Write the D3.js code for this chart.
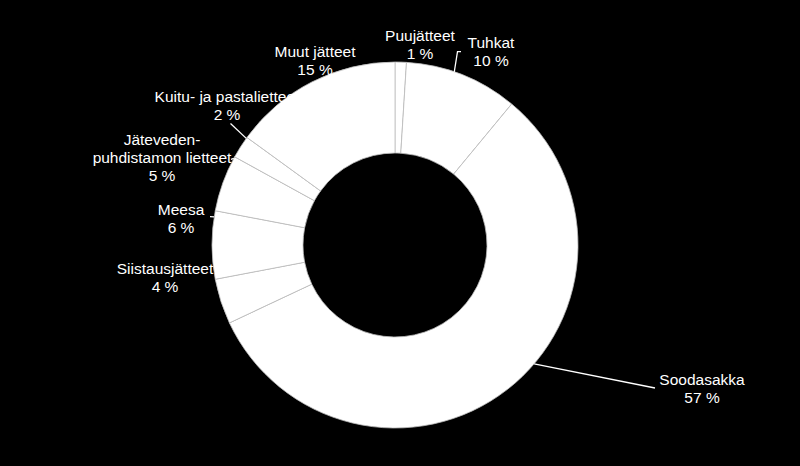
<!DOCTYPE html>
<html>
<head>
<meta charset="utf-8">
<script src="https://cdn.jsdelivr.net/npm/d3@7"></script>
<style>
  html, body { margin: 0; padding: 0; background: #000; }
  svg { display: block; }
</style>
</head>
<body>
<div id="chart"></div>
<script>
// chart data (share of waste, %)
var categories = ["Puujätteet", "Tuhkat", "Soodasakka", "Siistausjätteet", "Meesa",
                  "Jäteveden-\npuhdistamon lietteet", "Kuitu- ja pastalietteet", "Muut jätteet"];
var values = [1, 10, 57, 4, 6, 5, 2, 15];
var valueLabels = ["1 %", "10 %", "57 %", "4 %", "6 %", "5 %", "2 %", "15 %"];

// label placement: centre x and first baseline y, leader start points and
// where (fraction along the slice) the leader meets the ring
var labelPos = [[420, 41], [491, 47.5], [702, 385], [165, 274], [181, 215], [162, 145], [227, 101.5], [315, 56.5]];
var leaderStart = [null, [[461, 51.7], [457.5, 51.7]], [[655, 388]], null, [[210, 216.7]], [[231, 159.3]], [[230.5, 123.5]], null];
var leaderAt = [0, 0.425, 0.443, 0, 0.91, 0.97, 0.95, 0];

var svgWidth = 800;
var svgHeight = 466;
var cx = 395, cy = 245;
var outerR = 183, innerR = 92;

var svg = d3.select("#chart")
  .append("svg")
  .attr("width", svgWidth)
  .attr("height", svgHeight);

svg.append("rect")
  .attr("width", svgWidth)
  .attr("height", svgHeight)
  .attr("fill", "#000");

var g = svg.append("g")
  .attr("transform", `translate(${cx}, ${cy})`);

var pie = d3.pie()
  .sort(null)
  .value(d => d);

var arcs = pie(values);

var arc = d3.arc()
  .innerRadius(innerR)
  .outerRadius(outerR);

//labels go under the ring (the ring hides their overlapping parts)
var labels = svg.append("g")
  .attr("font-family", "'Liberation Sans', Arial, sans-serif")
  .attr("font-size", 15.5)
  .attr("fill", "#fff")
  .attr("text-anchor", "middle");

arcs.forEach(function(a, i) {
  var lines = categories[i].split("\n").concat([valueLabels[i]]);
  var t = labels.append("text")
    .attr("x", labelPos[i][0])
    .attr("y", labelPos[i][1]);
  lines.forEach(function(line, k) {
    t.append("tspan")
      .attr("x", labelPos[i][0])
      .attr("dy", k === 0 ? 0 : 18)
      .text(line);
  });

  if (leaderStart[i]) {
    var ang = a.startAngle + leaderAt[i] * (a.endAngle - a.startAngle);
    var end = [cx + outerR * Math.sin(ang), cy - outerR * Math.cos(ang)];
    var pts = leaderStart[i].concat([end]);
    svg.append("path")
      .attr("d", d3.line()(pts))
      .attr("fill", "none")
      .attr("stroke", "#fff")
      .attr("stroke-width", 1.3);
  }
});

//donut slices
g.selectAll("path.slice")
  .data(arcs)
  .enter()
  .append("path")
  .attr("class", "slice")
  .attr("d", arc)
  .attr("fill", "#fff")
  .attr("stroke", "#bdbdbd")
  .attr("stroke-width", 0.8);
</script>
</body>
</html>
